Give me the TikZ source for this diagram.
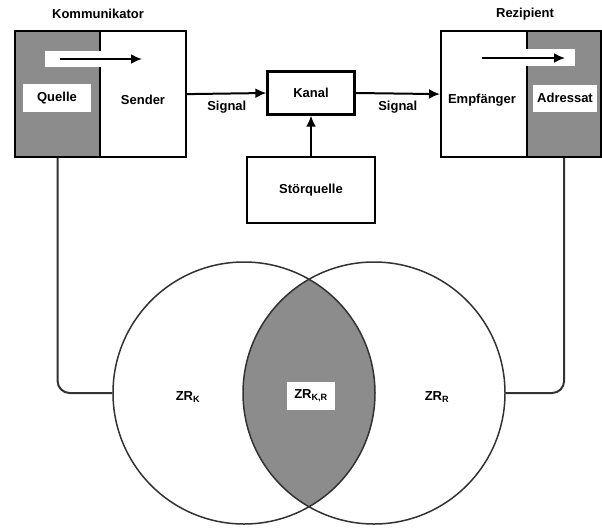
\documentclass[tikz,border=0pt]{standalone}
\usepackage{fontspec}
\setmainfont{Liberation Sans}
\usetikzlibrary{positioning, arrows.meta}
\definecolor{zrgrau}{RGB}{140,140,140}
\definecolor{liniengrau}{RGB}{50,50,50}
\tikzset{
  teil/.style={draw, line width=2.2pt, minimum height=126pt, inner sep=0pt, anchor=north west},
  kasten/.style={draw, line width=2.2pt, inner sep=0pt},
  beschriftung/.style={font=\bfseries\fontsize{13}{15}\selectfont},
  kreis/.style={draw=liniengrau, line width=1.5pt, circle, minimum size=262pt, inner sep=0pt},
  verbindung/.style={draw=liniengrau, line width=2pt, rounded corners=12pt},
  pfeil/.style={->, line width=2pt},
}
\begin{document}
\begin{tikzpicture}[x=1pt, y=-1pt, >={Latex[length=11pt,width=10pt]}]
    \useasboundingbox (0,0) rectangle (602,528);

    % Kommunikator
    \node[beschriftung] (kommunikator) at (98,14) {Kommunikator};
    \node[teil, fill=zrgrau, minimum width=85pt] (quelleteil) at (14,30) {};
    \node[teil, minimum width=86pt] (senderteil) at (99,30) {};
    \fill[white] (45,51) rectangle (101,67);
    \coordinate (kpfeil) at (60,59);
    \draw[pfeil] (kpfeil) -- ++(82,0);
    \node[fill=white, minimum width=68pt, minimum height=28pt, beschriftung] (quelle) at (57,98) {Quelle};
    \node[beschriftung] (sender) at (143,100) {Sender};

    % Rezipient
    \node[beschriftung] (rezipient) at (525,14) {Rezipient};
    \node[teil, minimum width=86pt] (empfaengerteil) at (440,30) {};
    \node[teil, fill=zrgrau, minimum width=74pt] (adressatteil) at (526,30) {};
    \fill[white] (524,49) rectangle (575,66);
    \coordinate (rpfeil) at (482,58);
    \draw[pfeil] (rpfeil) -- ++(83,0);
    \node[fill=white, minimum width=64pt, minimum height=27pt, beschriftung] (adressat) at (565,98) {Adressat};
    \node[beschriftung] (empfaenger) at (482,100) {Empfänger};

    % Kanal und Stoerquelle
    \node[kasten, minimum width=87pt, minimum height=43pt, beschriftung] (kanal) at (311,93) {Kanal};
    \node[kasten, minimum width=128pt, minimum height=66pt, beschriftung] (stoerquelle) at (311,190) {Störquelle};

    \draw[pfeil] (senderteil.east) -- node[below=3pt, beschriftung] (signalk) {Signal} (kanal.west);
    \draw[pfeil] (kanal.east) -- node[below=3pt, beschriftung] (signalr) {Signal} (empfaengerteil.west);
    \draw[pfeil] (stoerquelle.north) -- (kanal.south);

    % Zeichenvorraete
    \begin{scope}
        \clip (244,393) circle (131pt);
        \fill[zrgrau] (374,393) circle (131pt);
    \end{scope}
    \node[kreis] (zrk) at (244,393) {};
    \node[kreis] (zrr) at (374,393) {};

    \node[beschriftung] (zrklabel) at (188,397) {ZR\textsubscript{K}};
    \node[fill=white, minimum width=48pt, minimum height=28pt, beschriftung] (zrkr) at (311,396) {ZR\textsubscript{K,R}};
    \node[beschriftung] (zrrlabel) at (437,397) {ZR\textsubscript{R}};

    \draw[verbindung] (quelleteil.south) |- (zrk.west);
    \draw[verbindung] (adressatteil.south) |- (zrr.east);

\end{tikzpicture}
\end{document}
